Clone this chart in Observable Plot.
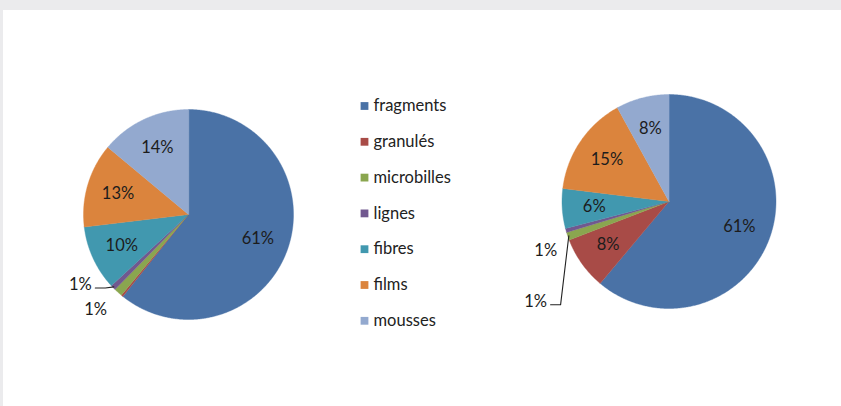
<!DOCTYPE html>
<html>
<head>
<meta charset="utf-8">
<script src="https://cdn.jsdelivr.net/npm/d3@7"></script>
<script src="https://cdn.jsdelivr.net/npm/@observablehq/plot@0.6"></script>
<style>
  html, body { margin: 0; padding: 0; background: #ebebed; }
  #page { position: relative; width: 841px; height: 406px; overflow: hidden; }
  #panel { position: absolute; left: 3px; top: 10px; right: 0; bottom: 0; background: #ffffff; }
  #chart { position: absolute; left: 0; top: 0; }
</style>
</head>
<body>
<div id="page"><div id="panel"></div><div id="chart"></div></div>
<script>
// Plastic particle types and their shares (%) in the two samples
const categories = ["fragments", "granulés", "microbilles", "lignes", "fibres", "films", "mousses"];
const palette = ["#4a72a6", "#a84b47", "#8aa64f", "#71588f", "#4198af", "#db843d", "#93a9cf"];
const sampleA = [61, 0.3, 1.3, 0.8, 10, 13, 14];
const sampleB = [61, 8, 1.2, 0.6, 6, 15, 8];

const W = 841, H = 406;
const deg = Math.PI / 180;

// Layout of each pie, and how the small slices are labelled outside
const pies = [
  {
    values: sampleA, cx: 188, cy: 214, r: 105,
    hidden: ["granulés"],
    outside: {
      "microbilles": {k: 1.27, da: 2},
      "lignes": {k: 1.23, da: 11, leader: true}
    }
  },
  {
    values: sampleB, cx: 668.5, cy: 201, r: 107,
    hidden: [],
    outside: {
      "microbilles": {k: 1.56, da: -18, leader: true},
      "lignes": {k: 1.24, da: -6}
    }
  }
];

const pt = (cx, cy, rad, a) => [cx + rad * Math.sin(a), cy - rad * Math.cos(a)];

const slices = [], labels = [], leaders = [];
for (const p of pies) {
  const arcs = d3.pie().sort(null).value(d => d)(p.values);
  arcs.forEach((a, i) => {
    const cat = categories[i];
    // slice outline: centre, sampled arc, back to centre
    const n = Math.max(2, Math.ceil((a.endAngle - a.startAngle) / (0.5 * deg)));
    const ring = [[p.cx, p.cy]];
    for (let j = 0; j <= n; j++) ring.push(pt(p.cx, p.cy, p.r, a.startAngle + (a.endAngle - a.startAngle) * j / n));
    ring.push([p.cx, p.cy]);
    slices.push({type: "Feature", properties: {category: cat}, geometry: {type: "Polygon", coordinates: [ring]}});

    if (p.hidden.includes(cat)) return;
    const mid = (a.startAngle + a.endAngle) / 2;
    const text = Math.round(a.data) + "%";
    const o = p.outside[cat];
    if (o) {
      const [x, y] = pt(p.cx, p.cy, p.r * o.k, mid + o.da * deg);
      labels.push({x, y, text});
      if (o.leader) {
        const sx = x + 15, sy = y + 3;
        const end = pt(p.cx, p.cy, p.r * 0.99, mid);
        leaders.push({type: "Feature", properties: {}, geometry: {type: "LineString", coordinates: [[sx, sy], [sx + 10, sy], end]}});
      }
    } else {
      const [x, y] = pt(p.cx, p.cy, p.r * 0.7, mid);
      labels.push({x, y, text});
    }
  });
}

// Legend rows in the middle column
const legend = categories.map((c, i) => ({category: c, x: 364, y: 105.5 + i * 35.8}));

const chart = Plot.plot({
  width: W,
  height: H,
  margin: 0,
  projection: {type: "identity"},
  style: {background: "transparent", fontFamily: "Lato, sans-serif"},
  color: {domain: categories, range: palette},
  marks: [
    Plot.geo(slices, {fill: d => d.properties.category, stroke: d => d.properties.category, strokeWidth: 0.4}),
    Plot.geo(leaders, {stroke: "#222", strokeWidth: 1.1, fill: "none"}),
    Plot.text(labels, {x: "x", y: "y", text: "text", fill: "#1c1c1c", fontSize: 16.5, textAnchor: "middle", lineAnchor: "middle"}),
    Plot.dot(legend, {x: "x", y: "y", fill: "category", symbol: "square", r: 4.4, stroke: null}),
    Plot.text(legend, {x: d => d.x + 9, y: "y", text: "category", fill: "#222", fontSize: 16.5, textAnchor: "start", lineAnchor: "middle"})
  ]
});
document.getElementById("chart").append(chart);
</script>
</body>
</html>
